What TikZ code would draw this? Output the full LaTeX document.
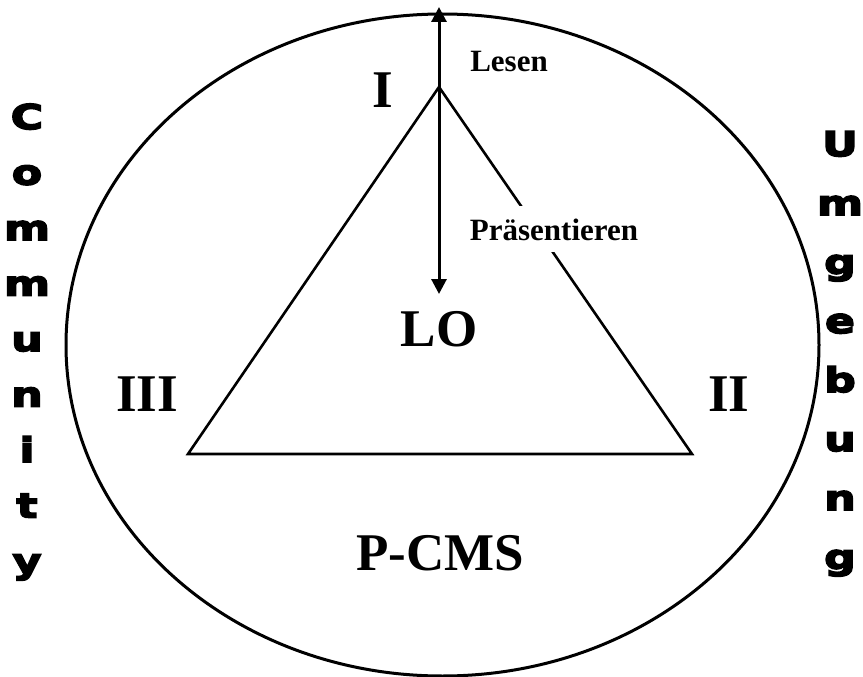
\documentclass[tikz,border=0pt]{standalone}
\usepackage{fontspec}
\setmainfont{Liberation Serif}
\newfontfamily\heavyfont{DejaVu Sans Bold}[FakeBold=5, FakeStretch=1.3]
\usetikzlibrary{arrows.meta}
\tikzset{
  biglabel/.style={font=\bfseries\fontsize{53}{60}\selectfont, inner sep=0pt},
  smalllabel/.style={font=\bfseries\fontsize{31}{36}\selectfont, inner sep=0pt},
  vletter/.style={font=\heavyfont\fontsize{34}{40}\selectfont, inner sep=0pt, anchor=base},
  bigarrow/.style={line width=3pt, -{Triangle[width=15pt,length=15pt]}}
}
\begin{document}
\begin{tikzpicture}[x=1pt,y=-1pt]
\useasboundingbox (0,0) rectangle (863,677);
\draw[line width=3pt] (442.5,345) ellipse [x radius=376.5, y radius=331];
% triangle
\coordinate (top) at (439,87);
\coordinate (left) at (188,454);
\coordinate (right) at (692,454);
\draw[line width=2.6pt, line join=miter] (top) -- (right) -- (left) -- cycle;
% arrows
\coordinate (lesenend) at (439,7);
\coordinate (praesend) at (439,294);
\draw[bigarrow] (top) -- (lesenend);
\draw[bigarrow] (top) -- (praesend);
\node[smalllabel, anchor=base] (lesen) at (509,72) {Lesen};
\node[smalllabel, anchor=base, fill=white, inner xsep=3pt, inner ysep=12pt] (praes) at (554,240) {Präsentieren};
% corners
\node[biglabel, anchor=base] (one) at (383,107) {I};
\node[biglabel, anchor=base] (three) at (147,411) {III};
\node[biglabel, anchor=base] (two) at (729,411) {II};
\node[biglabel, anchor=base] (lo) at (439,346) {LO};
\node[biglabel, anchor=base] (pcms) at (440,570) {P-CMS};
% side words
\foreach \ch [count=\i] in {C,o,m,m,u,n,i,t,y}
  \node[vletter] (comm\i) at (27,{129+(\i-1)*55.5}) {\ch};
\foreach \ch [count=\i] in {U,m,g,e,b,u,n,g}
  \node[vletter] (umg\i) at (840,{156+(\i-1)*59}) {\ch};
\end{tikzpicture}
\end{document}
